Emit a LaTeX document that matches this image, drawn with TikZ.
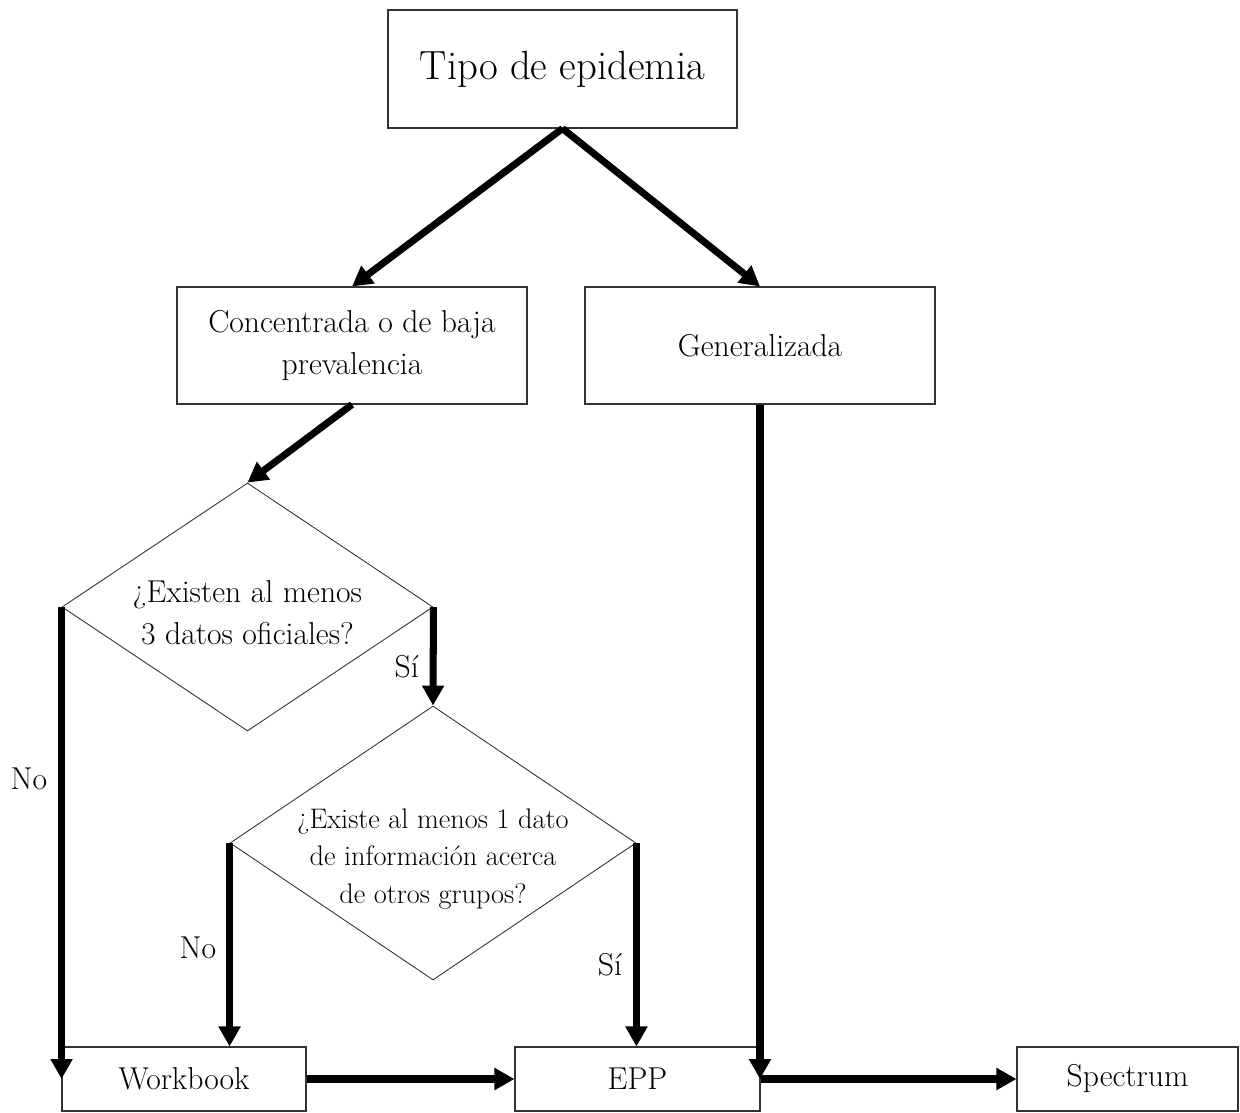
\documentclass[tikz,border=0pt]{standalone}
\usepackage{fontspec}
\usetikzlibrary{arrows.meta,shapes.geometric,positioning}

\begin{document}
\begin{tikzpicture}
  \tikzset{
    box/.style={draw=black!80, line width=0.6pt, rectangle, align=center,
      font=\fontsize{18}{24.4}\selectfont},
    decision/.style={draw=black!80, line width=0.5pt, diamond, inner sep=0pt},
    dtext/.style={align=center, inner sep=0pt},
    arr/.style={line width=4pt, -{Triangle[length=0.4cm,width=0.42cm]}},
    lbl/.style={inner sep=0pt, font=\fontsize{18}{20}\selectfont}
  }
  \useasboundingbox (0,0) rectangle (24.8,-22.26);

  % boxes
  \node [box, minimum width=6.98cm, minimum height=2.36cm, font=\fontsize{23.2}{26}\selectfont] (tipo) at (11.25,-1.38) {Tipo de epidemia};
  \node [box, minimum width=7cm, minimum height=2.34cm] (conc) at (7.04,-6.91) {Concentrada o de baja\\prevalencia};
  \node [box, minimum width=7cm, minimum height=2.34cm] (gen) at (15.2,-6.91) {Generalizada};

  \node [decision, minimum width=7.42cm, minimum height=4.96cm] (d1) at (4.95,-12.14) {};
  \node [dtext, font=\fontsize{18}{23.9}\selectfont] (d1text) at (4.95,-12.26) {¿Existen al menos\\3 datos oficiales?};

  \node [decision, minimum width=8.12cm, minimum height=5.48cm] (d2) at (8.66,-16.86) {};
  \node [dtext, font=\fontsize{16.1}{21.3}\selectfont] (d2text) at (8.66,-17.18) {¿Existe al menos 1 dato\\de información acerca\\de otros grupos?};

  \node [box, minimum width=4.88cm, minimum height=1.28cm] (wb) at (3.68,-21.58) {Workbook};
  \node [box, minimum width=4.9cm, minimum height=1.28cm] (epp) at (12.75,-21.58) {EPP};
  \node [box, minimum width=4.42cm, minimum height=1.28cm] (spec) at (22.55,-21.58) {Spectrum};

  % arrows
  \draw [arr] (tipo.south) -- (conc.north);
  \draw [arr] (tipo.south) -- (gen.north);
  \draw [arr] (conc.south) -- (d1.north);
  \draw [arr] (gen.south) -- (gen.south |- epp.east);

  \draw [arr] (d1.west) -- node [lbl, pos=0.363, left=0.22cm] (no1) {No} (d1.west |- wb.west);
  \draw [arr] (d1.east) -- node [lbl, pos=0.61, left=0.22cm] (si1) {Sí} (d2.north);
  \draw [arr] (d2.west) -- node [lbl, pos=0.515, left=0.2cm] (no2) {No} (d2.west |- wb.north);
  \draw [arr] (d2.east) -- node [lbl, pos=0.6, left=0.22cm] (si2) {Sí} (d2.east |- epp.north);

  \draw [arr] (wb.east) -- (epp.west);
  \draw [arr] (epp.east) -- (spec.west);
\end{tikzpicture}
\end{document}
